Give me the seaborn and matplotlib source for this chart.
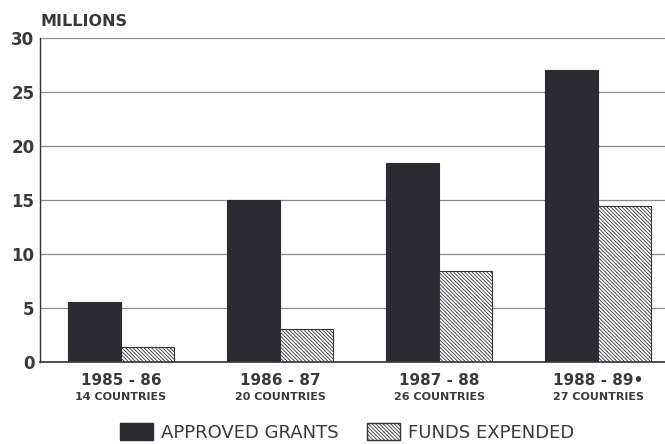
import matplotlib
matplotlib.use("Agg")
import matplotlib.pyplot as plt
import matplotlib.transforms as mtransforms
from matplotlib.patches import Patch
import seaborn as sns
import pandas as pd

years = ["1985 - 86", "1986 - 87", "1987 - 88", "1988 - 89•"]
countries = ["14 COUNTRIES", "20 COUNTRIES", "26 COUNTRIES", "27 COUNTRIES"]
approved = [5.6, 15.0, 18.4, 27.1]
expended = [1.4, 3.1, 8.4, 14.5]
series = ["APPROVED GRANTS", "FUNDS EXPENDED"]

sns.set_theme(style="white")
plt.rcParams["font.family"] = ["DejaVu Sans"]
plt.rcParams["hatch.linewidth"] = 0.6
plt.rcParams["hatch.color"] = "#333338"

df = pd.DataFrame({
    "period": years * 2,
    "value": approved + expended,
    "series": [series[0]] * 4 + [series[1]] * 4,
})

fig = plt.figure(figsize=(6.65, 4.44), dpi=100)
ax = fig.add_axes([0.060, 0.1847, 0.94, 0.729])

dark = "#2b2b31"
hatch = "\\" * 9
sns.barplot(data=df, x="period", y="value", hue="series", order=years,
            hue_order=series, palette=[dark, "white"], width=0.667,
            edgecolor=dark, linewidth=0.8, ax=ax, legend=False, saturation=1)

n = len(years)
for i, p in enumerate(ax.patches[:2 * n]):
    if i >= n:
        p.set_hatch(hatch)
        p.set_facecolor("white")
        p.set_edgecolor("#333338")

txt = "#3a3a3a"
ax.set_ylim(0, 30)
ax.set_xlim(-0.51, 3.42)
ax.set_yticks([0, 5, 10, 15, 20, 25, 30])
ax.yaxis.grid(True, color="#8a8a8a", linewidth=0.9)
ax.set_axisbelow(True)
for s in ["top", "right"]:
    ax.spines[s].set_visible(False)
ax.spines["left"].set_color("#333333")
ax.spines["bottom"].set_color("#333333")
ax.spines["left"].set_linewidth(1.0)
ax.spines["bottom"].set_linewidth(1.2)
ax.tick_params(axis="y", length=2, width=0.8, color="#555555", labelsize=12,
               labelcolor=txt, pad=2)
for lab in ax.get_yticklabels():
    lab.set_fontweight("bold")
ax.tick_params(axis="x", length=0, labelsize=11, labelcolor=txt, pad=8)
ax.set_xlabel("")
ax.set_ylabel("")
ax.set_xticks(range(n))
ax.set_xticklabels(years, fontweight="bold")

trans = mtransforms.blended_transform_factory(ax.transData, ax.transAxes)
for i, c in enumerate(countries):
    ax.text(i, -0.107, c, transform=trans, ha="center", va="center",
            fontsize=8, fontweight="bold", color=txt)

fig.text(0.061, 0.9516, "MILLIONS", ha="left", va="center", fontsize=11.5,
         color=txt, fontweight="bold")

handles = [Patch(facecolor=dark, edgecolor=dark),
           Patch(facecolor="white", edgecolor="#333338", hatch=hatch)]
fig.legend(handles, series, loc="center", bbox_to_anchor=(0.522, 0.026),
           ncol=2, frameon=False, fontsize=13, handlelength=1.85,
           handleheight=1.1, columnspacing=1.55, handletextpad=0.45,
           labelcolor=txt)

fig.savefig("out.png", dpi=100)
